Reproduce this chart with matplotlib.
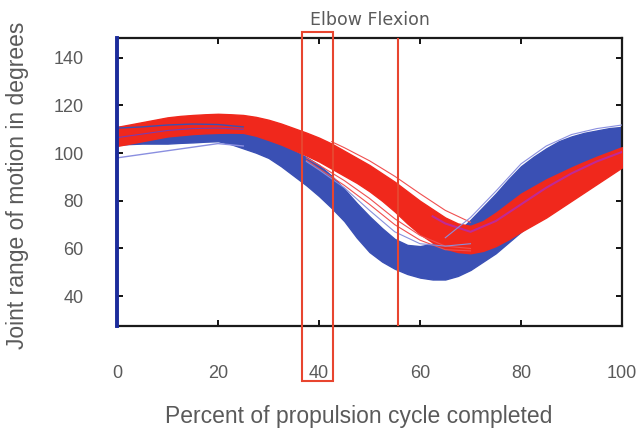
import matplotlib
matplotlib.use("Agg")
import matplotlib.pyplot as plt
from matplotlib.patches import Rectangle
from matplotlib.transforms import blended_transform_factory

plt.rcParams['font.family'] = ['Liberation Sans', 'DejaVu Sans']

# percent of propulsion cycle (reading grid, every 2.5 %)
pct = [0, 2.5, 5, 7.5, 10, 12.5, 15, 17.5, 20, 22.5, 25, 27.5, 30, 32.5, 35, 37.5, 40,
       42.5, 45, 47.5, 50, 52.5, 55, 57.5, 60, 62.5, 65, 67.5, 70, 72.5, 75, 77.5, 80,
       82.5, 85, 87.5, 90, 92.5, 95, 97.5, 100]

# edges of the bundle of blue curves
blue_upper = [111, 111.2, 111.5, 111.8, 112, 112.2, 112, 111.7, 111, 110.6, 110, 108.7, 107,
              104.3, 101, 98.3, 95, 90.5, 85, 79, 73.5, 68.5, 64, 61.5, 61, 62, 63.5, 67,
              72, 77.5, 83, 89, 94.5, 98.5, 102, 105, 107, 108.5, 109.5, 110.5, 111]
blue_lower = [103.5, 103.8, 104, 104, 104, 104.3, 104.5, 104.8, 105, 103.8, 102, 100.2, 98,
              94.5, 90.5, 86.5, 82, 77, 71.5, 64.5, 58.5, 54.5, 51.5, 49.3, 47.8, 47, 47,
              48.5, 51, 54.5, 58, 62.5, 67, 71.5, 76, 81, 86, 90.5, 95, 98, 101]

# edges of the bundle of red curves
red_upper = [111, 112, 113, 114, 115, 115.6, 116, 116.3, 116.5, 116.3, 116, 115.2, 114,
             112.4, 110.5, 108.6, 106.5, 104, 101, 98, 95, 91.5, 88, 84, 80, 76.5, 73,
             70.5, 69.5, 71.5, 75, 79, 83, 86, 89, 91.5, 94, 96.3, 98.5, 100.5, 102.5]
red_lower = [103, 104, 105, 106, 107, 107.5, 108, 108.3, 108.5, 108.6, 108.5, 107.3, 105.5,
             103.6, 101.3, 99, 96.5, 93.5, 90.5, 87.5, 84, 80, 75.5, 70.5, 66, 62.5, 60,
             58.5, 58, 59, 61, 63.8, 67, 70, 73, 76.5, 80, 83.5, 87, 90.5, 94]

# single stray curves
high_x = [42.5, 45, 50, 55, 60, 65, 70]
red_stray_high = [104.8, 102.3, 96.8, 90.3, 83, 76, 71]
gap_x = [37.5, 40, 45, 50, 55, 60, 65, 70]
red_stray_low1 = [98, 95, 88.5, 81, 72.5, 65.5, 61, 60]
red_stray_low2 = [97, 93.5, 86.5, 78.5, 70, 63.5, 59.5, 59]
blue_stray_gap = [96.5, 93, 85.5, 76, 67, 62, 61, 62]

early_x = [0, 5, 10, 15, 20, 25]
blue_early_low = [98, 99.5, 101, 102.5, 104, 103]
blue_in_red1 = [110.5, 111, 111.8, 112.2, 112, 111]
blue_in_red2 = [106.5, 108, 109.5, 110.3, 110.5, 110]

late_x = [62.5, 65, 70, 75, 80, 85, 90, 95, 100]
purple_mix = [73.5, 70.5, 67, 71.5, 78.5, 85.5, 91.5, 96.5, 100.5]
outline_x = [65, 70, 75, 80, 85, 90, 95, 100]
blue_outline = [64.5, 73, 84, 95.5, 103, 107.8, 110.3, 111.8]

window = (36.6, 42.8)
marker_pct = 55.6

blue = '#3a50b4'
red = '#f0281c'
frame_red = '#e8452f'
grey = '#5a5a5a'

fig = plt.figure(figsize=(6.39, 4.30), dpi=100)
ax = fig.add_axes([0.1831, 0.2419, 0.7903, 0.6698])

ax.fill_between(pct, blue_lower, blue_upper, color=blue, lw=1, edgecolor=blue, zorder=2)
ax.fill_between(pct, red_lower, red_upper, color=red, lw=1, edgecolor=red, zorder=3)

ax.plot(high_x, red_stray_high, color='#f05050', lw=0.8, zorder=4)
for ys in (red_stray_low1, red_stray_low2):
    ax.plot(gap_x, ys, color='#f05050', lw=0.8, zorder=4)
ax.plot(gap_x, blue_stray_gap, color='#8890dc', lw=0.8, zorder=4)
ax.plot(early_x, blue_early_low, color='#8a8fe0', lw=1.0, zorder=4)
ax.plot(early_x, blue_in_red1, color=blue, lw=1.0, zorder=4)
ax.plot(early_x, blue_in_red2, color='#7a3cb0', lw=0.8, zorder=4)
ax.plot(late_x, purple_mix, color='#b42ab4', lw=1.5, alpha=0.8, zorder=4)
ax.plot(outline_x, blue_outline, color='#8a8fe0', lw=0.8, zorder=4)

ax.axvline(marker_pct, color=frame_red, lw=1.5, zorder=5)
ax.axvline(0, color='#1c2c9c', lw=2.8, zorder=6, clip_on=False)

trans = blended_transform_factory(ax.transData, ax.transAxes)
ax.add_patch(Rectangle((window[0], -0.191), window[1] - window[0], 1.212,
                       fill=False, edgecolor=frame_red, lw=1.5,
                       transform=trans, clip_on=False, zorder=7))

ax.set_xlim(0, 100)
ax.set_ylim(27.5, 148.3)
ax.set_xticks(range(0, 101, 20))
ax.set_yticks(range(40, 141, 20))
ax.tick_params(direction='in', top=True, right=True, length=4, width=1.3,
               labelsize=13, labelcolor=grey)
ax.tick_params(axis='x', pad=28)
ax.tick_params(axis='y', pad=24)
for s in ax.spines.values():
    s.set_linewidth(1.6)
    s.set_color('#1a1a1a')

ax.set_title('Elbow Flexion', fontsize=12.5, color=grey, family='DejaVu Sans', pad=9)
ax.set_xlabel('Percent of propulsion cycle completed', fontsize=16.5, color=grey)
ax.set_ylabel('Joint range of motion in degrees', fontsize=16.5, color=grey)
ax.xaxis.set_label_coords(0.479, -0.274)
ax.yaxis.set_label_coords(-0.174, 0.487)

fig.savefig('out.png', dpi=100)
